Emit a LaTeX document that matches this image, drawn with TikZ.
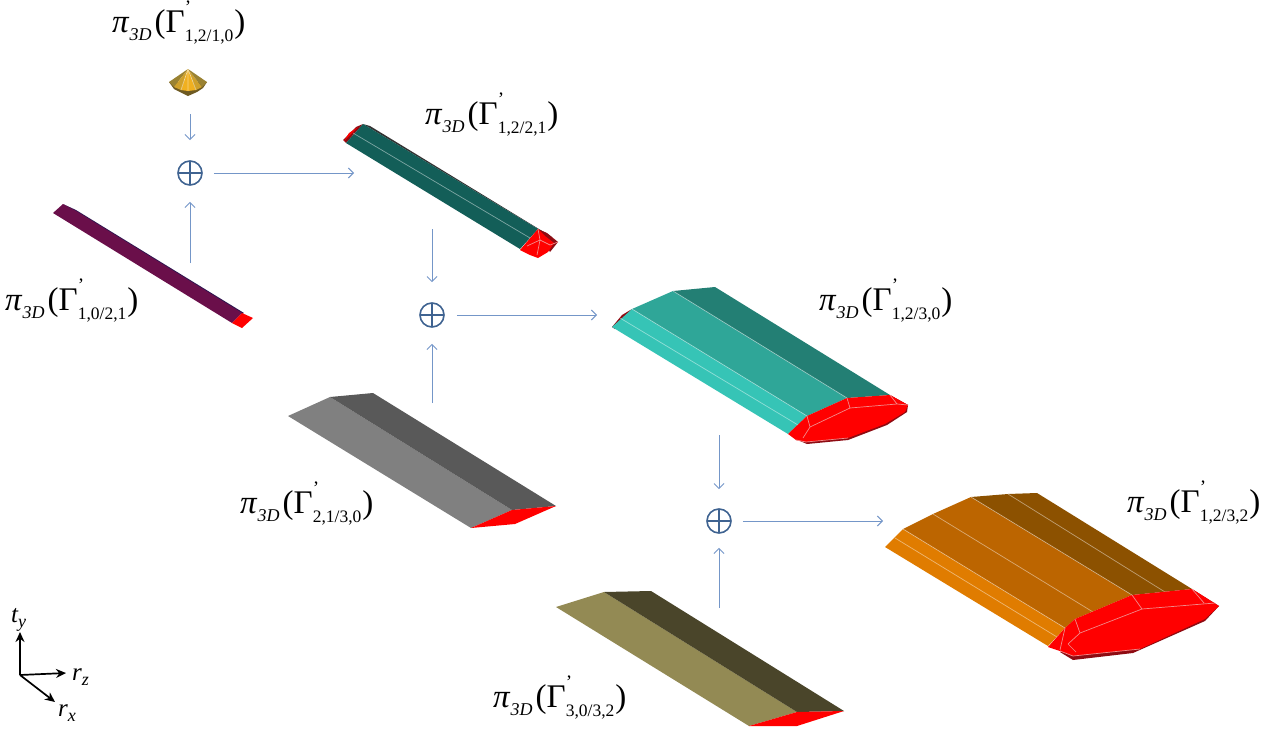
\documentclass[tikz,border=0pt]{standalone}
\usepackage{fontspec}
\setmainfont{Liberation Serif}
\usetikzlibrary{arrows.meta}

% projection label, with the subscript indices as argument
\newcommand{\projlabel}[1]{%
  {\fontsize{33}{33}\selectfont\itshape π}%
  \hspace{1pt}\raisebox{-8pt}{\fontsize{18}{18}\selectfont\itshape 3D}%
  \hspace{3pt}{\fontsize{33}{33}\selectfont (Γ}%
  \raisebox{19pt}{\rlap{\fontsize{19}{19}\selectfont '}}%
  \raisebox{-9pt}{\fontsize{17.5}{17.5}\selectfont #1}%
  \hspace{1pt}{\fontsize{33}{33}\selectfont )}}
% axis name with lowered index
\newcommand{\axisname}[2]{%
  {\fontsize{25}{25}\selectfont\itshape #1}%
  \raisebox{-5pt}{\fontsize{18}{18}\selectfont\itshape #2}}

\definecolor{flowblue}{HTML}{7496C8}
\definecolor{sumblue}{HTML}{3F6391}
\definecolor{endred}{HTML}{FF0000}
\definecolor{darkred}{HTML}{8E0B12}
\definecolor{edgepink}{HTML}{F28A8A}
\definecolor{goldmid}{HTML}{F0B020}
\definecolor{goldside}{HTML}{CFA02A}
\definecolor{goldouter}{HTML}{9A8232}
\definecolor{goldlow}{HTML}{6E5A22}

\begin{document}
\begin{tikzpicture}[
    x=1pt, y=-1pt,
    flow/.style={draw=flowblue, line width=1pt, -{Straight Barb[length=5pt,width=10pt]}},
    sumnode/.style={circle, draw=sumblue, line width=1.6pt, minimum size=24pt, inner sep=0pt,
        path picture={\draw[sumblue, line width=1.6pt]
            (path picture bounding box.north) -- (path picture bounding box.south)
            (path picture bounding box.west) -- (path picture bounding box.east);}},
    axis/.style={draw=black, line width=1.7pt, -{Stealth[length=10pt,width=9pt]}},
    seam/.style={draw=white, draw opacity=0.45, line width=0.7pt},
    redseam/.style={draw=edgepink, line width=0.7pt},
    proj/.style={anchor=base west, inner sep=0pt}
]
\useasboundingbox (0,0) rectangle (1269,731);

% Cone
\fill[fill=goldlow] (169,82) -- (174,89) -- (180,92) -- (188,96) -- (197,92) -- (203,88) -- (207,82) -- cycle;
\foreach \xa/\ya/\xb/\yb/\tone in {169/82/174/87/goldouter, 174/87/181/90/goldside, 181/90/188/91/goldmid, 188/91/196/90/goldmid, 196/90/202/87/goldside, 202/87/207/82/goldouter}
    \fill[fill=\tone] (188,69) -- (\xa,\ya) -- (\xb,\yb) -- cycle;
\draw[seam] (188,69) -- (181,90) (188,69) -- (188,91) (188,69) -- (196,90);

% Purple bar
\fill[fill={rgb,255:red,48;green,22;blue,80}] (63,204) -- (76,210) -- (244,313) -- (242,314) -- cycle;
\fill[fill={rgb,255:red,106;green,15;blue,74}] (53,213) -- (63,204) -- (76,211) -- (242,313) -- (232,323) -- cycle;
\fill[fill=endred] (232,323) -- (242,313) -- (253,318) -- (242,328) -- cycle;

% Green bar
\fill[fill=black!60!gray] (363,124) -- (370,126) -- (552,237) -- (538,229) -- cycle;
\fill[fill=darkred] (343,140) -- (356,127) -- (363,124) -- (346,143) -- cycle;
\fill[fill=endred] (344,141) -- (349,133) -- (358,127) -- (349,136) -- cycle;
\fill[fill={rgb,255:red,19;green,94;blue,88}] (346,143) -- (363,124) -- (538,229) -- (520,249) -- cycle;
\draw[seam] (353,133) -- (530,238);
\fill[fill=darkred] (538,229) -- (547,233) -- (558,242) -- (550,252) -- cycle;
\fill[fill=endred] (520,250) -- (538,229) -- (545,236) -- (554,243) -- (548,252) -- (538,258) -- (530,255) -- cycle;
\draw[redseam] (527,246) -- (540,240) -- (538,229) (540,240) -- (550,245) -- (558,242) (540,240) -- (537,255);

% Gray prism
\fill[fill={rgb,255:red,128;green,128;blue,128}] (288,416) -- (330,397) -- (512,510) -- (471,528) -- cycle;
\fill[fill={rgb,255:red,89;green,89;blue,89}] (330,397) -- (373,393) -- (556,506) -- (512,510) -- cycle;
\fill[fill=endred] (471,528) -- (512,510) -- (556,506) -- (515,524) -- cycle;

% Olive prism
\fill[fill={rgb,255:red,147;green,138;blue,84}] (556,607) -- (604,592) -- (797,712) -- (749,726) -- cycle;
\fill[fill={rgb,255:red,74;green,69;blue,42}] (604,592) -- (651,591) -- (844,711) -- (797,712) -- cycle;
\fill[fill=endred] (749,726) -- (797,712) -- (844,711) -- (797,726) -- cycle;

% Teal prism
\fill[fill=darkred] (612,327) -- (622,315) -- (632,309) -- (615,329) -- cycle;
\fill[fill={rgb,255:red,54;green,196;blue,182}] (612,327) -- (632,309) -- (807,416) -- (788,434) -- cycle;
\fill[fill={rgb,255:red,47;green,166;blue,152}] (632,309) -- (673,291) -- (847,398) -- (807,416) -- cycle;
\fill[fill={rgb,255:red,35;green,127;blue,116}] (673,291) -- (715,287) -- (890,395) -- (847,398) -- cycle;
\draw[seam] (620,318) -- (798,425) (632,309) -- (807,416) (673,291) -- (847,398);
\fill[fill=darkred] (800,441) -- (807,444) -- (848,440) -- (887,425) -- (907,412) -- (908,405) -- (890,395) -- (860,430) -- (810,440) -- cycle;
\fill[fill=endred] (788,434) -- (807,416) -- (847,398) -- (890,395) -- (908,405) -- (905,412) -- (885,424) -- (848,438) -- (806,442) -- (796,440) -- cycle;
\draw[redseam] (807,416) -- (810,427) -- (803,438) (810,427) -- (850,408) -- (897,404) -- (908,405)
    (847,398) -- (850,408) (890,395) -- (897,404) (796,440) -- (806,442) -- (848,438);

% Orange prism
\fill[fill={rgb,255:red,224;green,124;blue,0}] (885,547) -- (903,529) -- (1065,628) -- (1048,646) -- cycle;
\fill[fill={rgb,255:red,188;green,101;blue,0}] (903,529) -- (933,514) -- (971,497) -- (1132,595) -- (1075,619) -- (1065,628) -- cycle;
\fill[fill={rgb,255:red,140;green,81;blue,0}] (971,497) -- (1008,494) -- (1037,493) -- (1192,589) -- (1132,595) -- cycle;
\draw[seam] (895,538) -- (1057,637) (903,529) -- (1065,628) (933,514) -- (1093,612)
    (971,497) -- (1132,595) (1008,494) -- (1165,592);
\fill[fill=darkred] (1060,652) -- (1073,660) -- (1133,653) -- (1205,621) -- (1219,606) -- (1192,589) -- (1150,630) -- cycle;
\fill[fill=endred] (1048,647) -- (1065,628) -- (1075,619) -- (1132,595) -- (1192,589) -- (1219,606) -- (1205,619) -- (1140,649) -- (1073,656) -- (1060,651) -- cycle;
\draw[redseam] (1075,619) -- (1080,633) -- (1068,644) (1080,633) -- (1142,609) -- (1215,603)
    (1132,595) -- (1142,609) (1192,589) -- (1204,603) (1060,651) -- (1073,656) -- (1140,649)
    (1065,628) -- (1060,650) (1068,644) -- (1076,652);

% Sum nodes
\node[sumnode] (sum1) at (190,173) {};
\node[sumnode] (sum2) at (432,315) {};
\node[sumnode] (sum3) at (719,521) {};

% Free arrow ends
\coordinate (cone out) at (190,114);
\coordinate (purple out) at (190,263);
\coordinate (green in) at (354,173);
\coordinate (green out) at (432,229);
\coordinate (gray out) at (432,403);
\coordinate (teal in) at (597,315);
\coordinate (teal out) at (719,435);
\coordinate (olive out) at (719,608);
\coordinate (orange in) at (883,521);

% Arrows
\draw[flow, shorten >=20pt] (cone out) -- (sum1);
\draw[flow, shorten >=16pt] (purple out) -- (sum1);
\draw[flow, shorten <=11pt] (sum1) -- (green in);
\draw[flow, shorten >=20pt] (green out) -- (sum2);
\draw[flow, shorten >=16pt] (gray out) -- (sum2);
\draw[flow, shorten <=12pt] (sum2) -- (teal in);
\draw[flow, shorten >=19pt] (teal out) -- (sum3);
\draw[flow, shorten >=14pt] (olive out) -- (sum3);
\draw[flow, shorten <=11pt] (sum3) -- (orange in);

% Labels
\node[proj] (label cone) at (112,32) {\projlabel{1,2/1,0}};
\node[proj] (label green) at (425,124) {\projlabel{1,2/2,1}};
\node[proj] (label purple) at (5,310) {\projlabel{1,0/2,1}};
\node[proj] (label teal) at (819,310) {\projlabel{1,2/3,0}};
\node[proj] (label gray) at (240,513) {\projlabel{2,1/3,0}};
\node[proj] (label orange) at (1127,512) {\projlabel{1,2/3,2}};
\node[proj] (label olive) at (493,707) {\projlabel{3,0/3,2}};

% Axes
\coordinate (origin) at (20,675);
\node[proj] (ty) at (11,622) {\axisname{t}{y}};
\node[proj] (rz) at (72,680) {\axisname{r}{z}};
\node[proj] (rx) at (58,716) {\axisname{r}{x}};
\draw[axis] (origin) -- (20,632);
\draw[axis] (origin) -- (66,673);
\draw[axis] (origin) -- (55,702);

\end{tikzpicture}
\end{document}
